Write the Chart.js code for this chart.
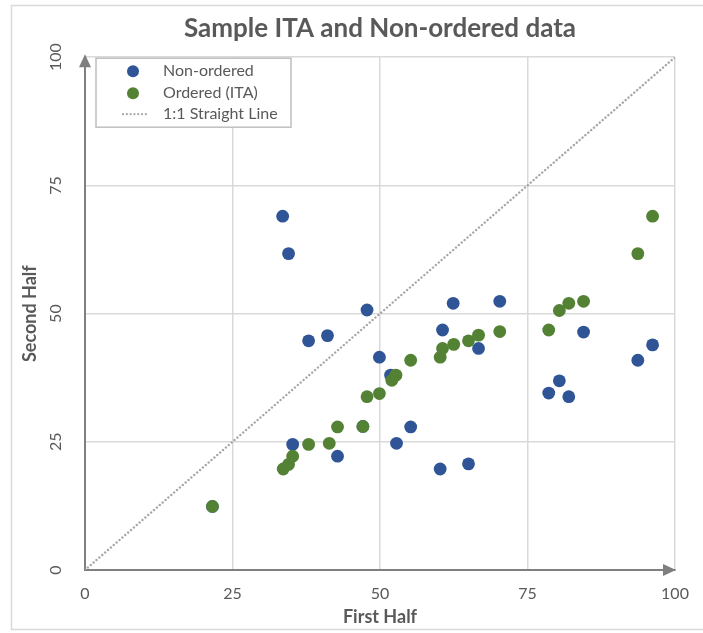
<!DOCTYPE html>
<html>
<head>
<meta charset="utf-8">
<title>Sample ITA and Non-ordered data</title>
<script src="https://cdn.jsdelivr.net/npm/chart.js@4/dist/chart.umd.min.js"></script>
<style>
  html, body { margin: 0; padding: 0; background: #fff; }
  #wrap { position: relative; width: 703px; height: 633px; }
  #itaChart { display: block; }
</style>
</head>
<body>
<div id="wrap"><canvas id="itaChart" width="703" height="633"></canvas></div>
<script>
// First half vs second half, raw pairs
const nonOrderedX = [21.6, 33.5, 34.5, 37.9, 41.1, 47.8, 49.9, 51.8, 35.2, 42.8, 47.1, 52.8, 55.2,
                     60.2, 65.0, 60.6, 62.4, 66.7, 70.3, 78.6, 80.4, 82.0, 84.5, 93.7, 96.2];
const nonOrderedY = [12.4, 69.0, 61.7, 44.7, 45.7, 50.7, 41.5, 38.0, 24.5, 22.2, 28.0, 24.7, 27.9,
                     19.7, 20.7, 46.8, 52.0, 43.2, 52.4, 34.5, 36.9, 33.8, 46.4, 40.9, 43.9];

// Both halves sorted ascending (ITA)
const orderedX = [21.6, 33.6, 34.5, 35.2, 37.9, 41.4, 42.8, 47.1, 47.8, 49.9, 52.0, 52.7, 55.2,
                  60.2, 60.6, 62.5, 65.0, 66.7, 70.3, 78.6, 80.4, 82.0, 84.5, 93.7, 96.2];
const orderedY = [12.4, 19.7, 20.6, 22.2, 24.5, 24.7, 27.9, 28.0, 33.8, 34.4, 37.0, 38.0, 40.9,
                  41.5, 43.2, 44.0, 44.7, 45.8, 46.5, 46.8, 50.6, 52.0, 52.4, 61.7, 69.0];

const lineX = [0, 100];
const lineY = [0, 100];

const axisTicks = [0, 25, 50, 75, 100];
const seriesNames = ['Non-ordered', 'Ordered (ITA)', '1:1 Straight Line'];

const BLUE = '#2F5597';
const GREEN = '#548235';
const TEXT = '#595959';
const AXIS = '#7f7f7f';
const GRID = '#d9d9d9';
const FONT = 'Lato, "Open Sans", sans-serif';

const toPoints = (xs, ys) => xs.map((x, i) => ({ x, y: ys[i] }));

// frame around the whole chart
const framePlugin = {
    id: 'frame',
    beforeDraw(chart) {
        const ctx = chart.ctx;
        ctx.save();
        ctx.strokeStyle = GRID;
        ctx.lineWidth = 1.5;
        ctx.strokeRect(11.5, 5.5, 700, 624);
        ctx.restore();
    }
};

// arrow heads at the ends of both axes
const arrowPlugin = {
    id: 'arrows',
    afterDraw(chart) {
        const { ctx, chartArea: a } = chart;
        ctx.save();
        ctx.fillStyle = AXIS;
        ctx.beginPath();
        ctx.moveTo(a.left, a.top - 3);
        ctx.lineTo(a.left - 6, a.top + 10);
        ctx.lineTo(a.left + 6, a.top + 10);
        ctx.closePath();
        ctx.fill();
        ctx.beginPath();
        ctx.moveTo(a.right + 1, a.bottom);
        ctx.lineTo(a.right - 12, a.bottom - 6);
        ctx.lineTo(a.right - 12, a.bottom + 6);
        ctx.closePath();
        ctx.fill();
        ctx.restore();
    }
};

// boxed legend inside the top-left corner of the plot
const boxLegendPlugin = {
    id: 'boxLegend',
    afterDraw(chart) {
        const { ctx, chartArea: a } = chart;
        const left = a.left + 11, top = a.top + 1;
        const w = 195, h = 69;
        ctx.save();
        ctx.fillStyle = '#fff';
        ctx.fillRect(left, top, w, h);
        ctx.strokeStyle = '#bfbfbf';
        ctx.lineWidth = 1.5;
        ctx.strokeRect(left, top, w, h);

        const rows = [top + 13, top + 35, top + 56];
        const markX = left + 37, textX = left + 67;
        ctx.fillStyle = BLUE;
        ctx.beginPath(); ctx.arc(markX, rows[0], 6, 0, Math.PI * 2); ctx.fill();
        ctx.fillStyle = GREEN;
        ctx.beginPath(); ctx.arc(markX, rows[1], 6, 0, Math.PI * 2); ctx.fill();

        ctx.strokeStyle = '#a6a6a6';
        ctx.lineWidth = 2.2;
        ctx.lineCap = 'round';
        ctx.setLineDash([0.01, 3.8]);
        ctx.beginPath(); ctx.moveTo(left + 27, rows[2]); ctx.lineTo(left + 52, rows[2]); ctx.stroke();
        ctx.setLineDash([]);

        ctx.fillStyle = TEXT;
        ctx.font = '16px ' + FONT;
        ctx.textBaseline = 'middle';
        seriesNames.forEach((name, i) => ctx.fillText(name, textX, rows[i]));
        ctx.restore();
    }
};

const gridColor = c => (c.tick && c.tick.value === 0 ? 'rgba(0,0,0,0)' : GRID);

const ctx = document.getElementById('itaChart').getContext('2d');
new Chart(ctx, {
    type: 'scatter',
    data: {
        datasets: [
            {
                label: seriesNames[1],
                data: toPoints(orderedX, orderedY),
                backgroundColor: GREEN,
                borderWidth: 0,
                pointRadius: 6.4
            },
            {
                label: seriesNames[0],
                data: toPoints(nonOrderedX, nonOrderedY),
                backgroundColor: BLUE,
                borderWidth: 0,
                pointRadius: 6.4
            },
            {
                label: seriesNames[2],
                type: 'line',
                data: toPoints(lineX, lineY),
                borderColor: '#a6a6a6',
                borderWidth: 2.4,
                borderDash: [0.01, 3.8],
                borderCapStyle: 'round',
                pointRadius: 0,
                fill: false
            }
        ]
    },
    options: {
        responsive: false,
        animation: false,
        layout: { padding: { left: 11, right: 28, top: 0, bottom: 0 } },
        plugins: {
            legend: { display: false },
            tooltip: { enabled: false },
            title: {
                display: true,
                fullSize: false,
                text: 'Sample ITA and Non-ordered data',
                color: TEXT,
                font: { family: FONT, size: 26, weight: 'bold' },
                padding: { top: 13, bottom: 13 }
            }
        },
        scales: {
            x: {
                type: 'linear',
                min: 0,
                max: 100,
                afterBuildTicks: s => { s.ticks = axisTicks.map(v => ({ value: v })); },
                afterFit: s => { s.height = 63; },
                grid: { color: gridColor, lineWidth: 1.5, drawTicks: false },
                border: { display: true, color: AXIS, width: 2 },
                ticks: { color: TEXT, font: { family: FONT, size: 16 }, padding: 14, maxRotation: 0 },
                title: {
                    display: true,
                    text: 'First Half',
                    color: TEXT,
                    font: { family: FONT, size: 18, weight: 'bold' },
                    padding: { top: 0, bottom: 5 }
                }
            },
            y: {
                type: 'linear',
                min: 0,
                max: 100,
                afterBuildTicks: s => { s.ticks = axisTicks.map(v => ({ value: v })); },
                afterFit: s => { s.width = 74; },
                grid: { color: gridColor, lineWidth: 1.5, drawTicks: false },
                border: { display: true, color: AXIS, width: 2 },
                ticks: {
                    color: TEXT,
                    font: { family: FONT, size: 16 },
                    padding: 15,
                    minRotation: 90,
                    maxRotation: 90,
                    crossAlign: 'center'
                },
                title: {
                    display: true,
                    text: 'Second Half',
                    color: TEXT,
                    font: { family: FONT, size: 18, weight: 'bold' },
                    padding: { top: 8, bottom: 0 }
                }
            }
        }
    },
    plugins: [framePlugin, arrowPlugin, boxLegendPlugin]
});
</script>
</body>
</html>
